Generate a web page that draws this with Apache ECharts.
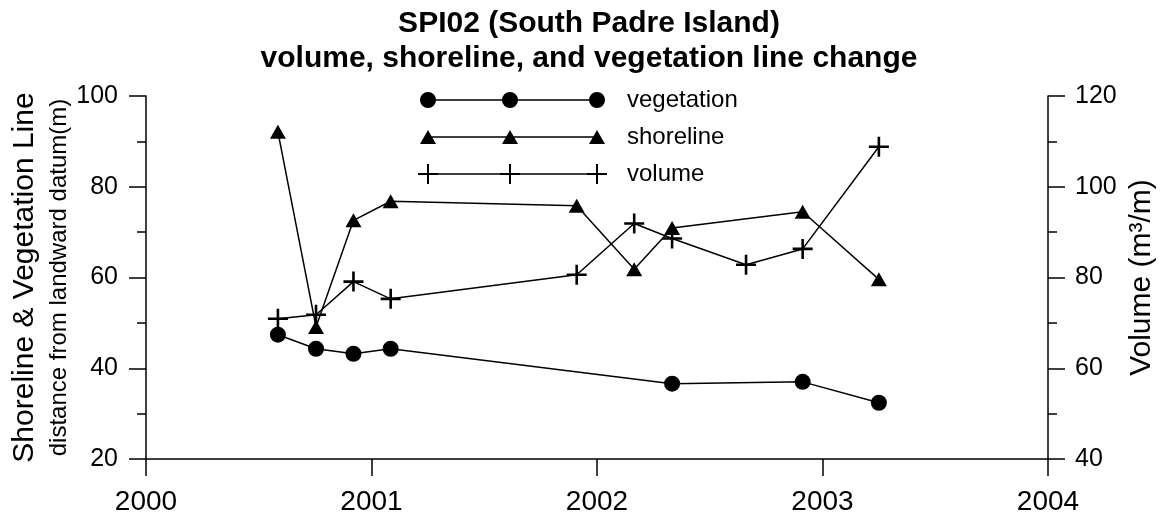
<!DOCTYPE html>
<html>
<head>
<meta charset="utf-8">
<script src="https://cdn.jsdelivr.net/npm/echarts/dist/echarts.min.js"></script>
<style>
  html, body { margin: 0; padding: 0; background: #fff; }
  #main { width: 1162px; height: 518px; }
</style>
</head>
<body>
<div id="main"></div>
<script>
// values (x = decimal year)
var vegDates = [2000.585, 2000.754, 2000.92, 2001.085, 2002.333, 2002.912, 2003.25];
var vegValues = [47.4, 44.3, 43.2, 44.3, 36.6, 37.0, 32.4];

var shoreDates = [2000.585, 2000.754, 2000.92, 2001.085, 2001.91, 2002.165, 2002.333, 2002.912, 2003.25];
var shoreValues = [92.1, 49.1, 72.6, 76.8, 75.8, 61.8, 70.9, 74.5, 59.6];

var volDates = [2000.585, 2000.754, 2000.92, 2001.085, 2001.91, 2002.165, 2002.333, 2002.661, 2002.912, 2003.25];
var volValues = [70.9, 71.8, 79.1, 75.3, 80.6, 91.9, 88.6, 82.8, 86.3, 108.8];

var seriesNames = ['vegetation', 'shoreline', 'volume'];

var FONT = '"Liberation Sans", Arial, sans-serif';
var crossPath = 'path://M8.7 0h2.6v8.7h8.7v2.6h-8.7v8.7h-2.6v-8.7h-8.7v-2.6h8.7z';

function pairs(xs, ys) {
    return xs.map(function (x, i) { return [x, ys[i]]; });
}

// legend sample: a line with three markers, drawn as one path
var LW = 204, LH = 20, CY = 10, MARKS = [10, 92, 179];
function legendIcon(kind) {
    var p = 'M0 0h0.05v0.05h-0.05Z M' + (LW - 0.05) + ' ' + (LH - 0.05) + 'h0.05v0.05h-0.05Z ';
    p += 'M' + MARKS[0] + ' ' + (CY - 0.75) + 'h' + (MARKS[2] - MARKS[0]) + 'v1.5h-' + (MARKS[2] - MARKS[0]) + 'Z ';
    MARKS.forEach(function (cx) {
        if (kind === 'circle') {
            p += 'M' + (cx - 8) + ' ' + CY + 'A8 8 0 1 1 ' + (cx + 8) + ' ' + CY + 'A8 8 0 1 1 ' + (cx - 8) + ' ' + CY + 'Z ';
        } else if (kind === 'triangle') {
            p += 'M' + cx + ' ' + (CY - 7) + 'L' + (cx + 8) + ' ' + (CY + 7) + 'L' + (cx - 8) + ' ' + (CY + 7) + 'Z ';
        } else {
            p += 'M' + (cx - 1) + ' ' + (CY - 10) + 'h2v9h9v2h-9v9h-2v-9h-9v-2h9Z ';
        }
    });
    return 'path://' + p;
}

var chart = echarts.init(document.getElementById('main'));

var axisCommon = {
    axisLine: { show: true, lineStyle: { color: '#000', width: 1.5 } },
    axisTick: { show: true, inside: false, length: 17, lineStyle: { color: '#000', width: 1.5 } },
    splitLine: { show: false },
    axisLabel: { color: '#000', fontFamily: FONT }
};

var option = {
    animation: false,
    backgroundColor: '#fff',
    textStyle: { fontFamily: FONT, color: '#000' },
    title: {
        text: 'SPI02 (South Padre Island)\nvolume, shoreline, and vegetation line change',
        left: 589,
        top: 6,
        padding: 0,
        textAlign: 'center',
        textStyle: { fontFamily: FONT, fontSize: 30, fontWeight: 'bold', lineHeight: 35, color: '#000' }
    },
    legend: {
        orient: 'vertical',
        left: 418,
        top: 88,
        padding: 0,
        itemWidth: LW,
        itemHeight: LH,
        itemGap: 13,
        itemStyle: { borderWidth: 0 },
        textStyle: { fontFamily: FONT, fontSize: 24, lineHeight: 20, color: '#000' },
        data: [
            { name: seriesNames[0], icon: legendIcon('circle') },
            { name: seriesNames[1], icon: legendIcon('triangle') },
            { name: seriesNames[2], icon: legendIcon('cross') }
        ]
    },
    grid: { left: 146, right: 114, top: 96, bottom: 59, outerBoundsMode: 'none' },
    xAxis: Object.assign({}, axisCommon, {
        type: 'value',
        min: 2000,
        max: 2004,
        interval: 1,
        axisLine: { show: true, onZero: false, lineStyle: { color: '#000', width: 1.5 } },
        axisLabel: {
            color: '#000', fontFamily: FONT, fontSize: 28, margin: 29,
            formatter: function (v) { return String(v); }
        }
    }),
    yAxis: [
        Object.assign({}, axisCommon, {
            type: 'value',
            position: 'left',
            min: 20,
            max: 100,
            interval: 20,
            minorTick: { show: true, splitNumber: 2, length: 9, lineStyle: { color: '#000', width: 1.5 } },
            axisLabel: { color: '#000', fontFamily: FONT, fontSize: 25, margin: 28 },
            name: '{a|Shoreline & Vegetation Line}\n{b|distance from landward datum(m)}',
            nameLocation: 'middle',
            nameRotate: 90,
            nameGap: 71,
            nameMoveOverlap: false,
            nameTextStyle: {
                color: '#000',
                rich: {
                    a: { fontFamily: FONT, fontSize: 30, lineHeight: 36, color: '#000' },
                    b: { fontFamily: FONT, fontSize: 24, lineHeight: 32, color: '#000' }
                }
            }
        }),
        Object.assign({}, axisCommon, {
            type: 'value',
            position: 'right',
            min: 40,
            max: 120,
            interval: 20,
            minorTick: { show: true, splitNumber: 2, length: 9, lineStyle: { color: '#000', width: 1.5 } },
            axisLabel: { color: '#000', fontFamily: FONT, fontSize: 25, margin: 27 },
            name: 'Volume (m³/m)',
            nameLocation: 'middle',
            nameRotate: 90,
            nameGap: 77,
            nameMoveOverlap: false,
            nameTextStyle: { fontFamily: FONT, fontSize: 30, lineHeight: 34, color: '#000' }
        })
    ],
    series: [
        {
            name: seriesNames[0],
            type: 'line',
            yAxisIndex: 0,
            symbol: 'circle',
            symbolSize: 16,
            itemStyle: { color: '#000' },
            lineStyle: { color: '#000', width: 1.5 },
            data: pairs(vegDates, vegValues)
        },
        {
            name: seriesNames[1],
            type: 'line',
            yAxisIndex: 0,
            symbol: 'triangle',
            symbolSize: [16, 14],
            itemStyle: { color: '#000' },
            lineStyle: { color: '#000', width: 1.5 },
            data: pairs(shoreDates, shoreValues)
        },
        {
            name: seriesNames[2],
            type: 'line',
            yAxisIndex: 1,
            symbol: crossPath,
            symbolSize: 20,
            itemStyle: { color: '#000' },
            lineStyle: { color: '#000', width: 1.5 },
            data: pairs(volDates, volValues)
        }
    ]
};

option && chart.setOption(option);
</script>
</body>
</html>
